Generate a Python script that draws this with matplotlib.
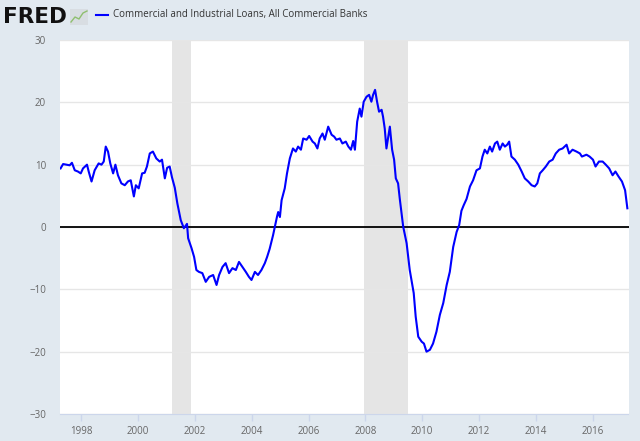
import numpy as np
import matplotlib.pyplot as plt
from matplotlib.patches import Rectangle
from matplotlib.lines import Line2D

plt.rcParams['font.family'] = ['Open Sans', 'DejaVu Sans']

# year-over-year % change (decimal years)
years = [1997.27, 1997.36, 1997.48, 1997.59, 1997.67, 1997.77, 1997.88, 1997.98,
         1998.06, 1998.20, 1998.26, 1998.36, 1998.47, 1998.61, 1998.71, 1998.79,
         1998.86, 1998.94, 1999.02, 1999.12, 1999.20, 1999.29, 1999.41, 1999.53,
         1999.64, 1999.74, 1999.85, 1999.92, 2000.02, 2000.14, 2000.23, 2000.31,
         2000.41, 2000.52, 2000.64, 2000.76, 2000.84, 2000.94, 2001.02, 2001.11,
         2001.19, 2001.29, 2001.38, 2001.50, 2001.61, 2001.72, 2001.76, 2001.88,
         2001.97, 2002.05, 2002.14, 2002.26, 2002.38, 2002.50, 2002.64, 2002.76,
         2002.85, 2002.97, 2003.08, 2003.20, 2003.32, 2003.44, 2003.55, 2003.67,
         2003.79, 2003.90, 2003.99, 2004.11, 2004.22, 2004.34, 2004.46, 2004.54,
         2004.63, 2004.75, 2004.81, 2004.89, 2004.93, 2004.99, 2005.05, 2005.16,
         2005.24, 2005.34, 2005.45, 2005.55, 2005.63, 2005.73, 2005.81, 2005.93,
         2006.02, 2006.14, 2006.22, 2006.31, 2006.39, 2006.49, 2006.57, 2006.69,
         2006.81, 2006.90, 2006.98, 2007.10, 2007.19, 2007.31, 2007.40, 2007.49,
         2007.57, 2007.63, 2007.71, 2007.80, 2007.86, 2007.94, 2008.04, 2008.13,
         2008.21, 2008.27, 2008.34, 2008.41, 2008.48, 2008.57, 2008.62, 2008.68,
         2008.74, 2008.86, 2008.94, 2009.01, 2009.07, 2009.15, 2009.21, 2009.33,
         2009.45, 2009.56, 2009.70, 2009.77, 2009.86, 2009.98, 2010.06, 2010.15,
         2010.27, 2010.38, 2010.50, 2010.62, 2010.74, 2010.86, 2010.97, 2011.09,
         2011.21, 2011.30, 2011.38, 2011.46, 2011.56, 2011.68, 2011.79, 2011.91,
         2012.03, 2012.12, 2012.20, 2012.29, 2012.38, 2012.46, 2012.56, 2012.64,
         2012.73, 2012.83, 2012.91, 2012.99, 2013.06, 2013.14, 2013.26, 2013.38,
         2013.50, 2013.61, 2013.73, 2013.85, 2013.96, 2014.05, 2014.14, 2014.24,
         2014.35, 2014.47, 2014.59, 2014.70, 2014.82, 2014.94, 2015.08, 2015.17,
         2015.29, 2015.43, 2015.55, 2015.62, 2015.78, 2015.89, 2016.01, 2016.10,
         2016.22, 2016.35, 2016.46, 2016.58, 2016.70, 2016.80, 2016.91, 2017.03,
         2017.14, 2017.22]
values = [9.4, 10.1, 10.0, 9.9, 10.3, 9.1, 8.9, 8.6,
          9.4, 10.0, 8.9, 7.3, 9.1, 10.2, 10.0, 10.5,
          12.9, 12.1, 10.2, 8.6, 10.0, 8.3, 7.0, 6.7,
          7.3, 7.5, 4.9, 6.7, 6.2, 8.6, 8.7, 9.7,
          11.8, 12.1, 11.0, 10.5, 10.8, 7.8, 9.5, 9.7,
          8.0, 6.3, 3.8, 1.1, -0.2, 0.5, -1.8, -3.4,
          -4.8, -6.9, -7.2, -7.4, -8.8, -8.0, -7.7, -9.3,
          -7.7, -6.4, -5.8, -7.4, -6.6, -6.9, -5.6, -6.4,
          -7.2, -8.0, -8.5, -7.2, -7.7, -6.9, -5.8, -4.8,
          -3.5, -1.3, 0.0, 1.7, 2.4, 1.6, 4.3, 6.2,
          8.6, 11.0, 12.6, 12.1, 12.9, 12.4, 14.2, 14.0,
          14.6, 13.7, 13.4, 12.6, 14.2, 15.0, 14.0, 16.1,
          14.8, 14.5, 14.0, 14.2, 13.4, 13.7, 12.9, 12.4,
          13.8, 12.4, 16.9, 19.0, 17.7, 20.1, 20.9, 21.2,
          20.1, 21.2, 22.0, 20.1, 18.5, 18.8, 17.7, 15.8,
          12.6, 16.1, 12.4, 10.8, 7.8, 7.0, 4.5, 0.05,
          -2.6, -6.9, -10.6, -14.4, -17.6, -18.4, -18.7, -20.0,
          -19.7, -18.7, -16.8, -14.1, -12.2, -9.3, -7.2, -3.2,
          -0.8, 0.3, 2.6, 3.5, 4.5, 6.5, 7.5, 9.1,
          9.4, 11.3, 12.4, 11.8, 12.9, 12.1, 13.4, 13.7,
          12.4, 13.4, 12.9, 13.2, 13.7, 11.3, 10.8, 10.0,
          8.9, 7.8, 7.3, 6.7, 6.5, 7.0, 8.6, 9.1,
          9.7, 10.5, 10.8, 11.8, 12.4, 12.6, 13.2, 11.8,
          12.4, 12.1, 11.8, 11.3, 11.6, 11.3, 10.8, 9.7,
          10.5, 10.5, 10.0, 9.4, 8.3, 8.9, 8.1, 7.3,
          5.9, 3.0]

recessions = [(2001.18, 2001.85), (2007.94, 2009.49)]
yticks = [-30, -20, -10, 0, 10, 20, 30]
xticks = list(range(1998, 2017, 2))
series_name = 'Commercial and Industrial Loans, All Commercial Banks'

bg = '#e1e9f0'
fig = plt.figure(figsize=(6.4, 4.41), dpi=100, facecolor=bg)
ax = fig.add_axes([60/640, 27/441, 568.5/640, 374/441])
ax.set_facecolor('white')

for start, end in recessions:
    ax.axvspan(start, end, color='#e5e5e5', lw=0, zorder=0)

ax.set_yticks(yticks)
ax.yaxis.grid(True, color='#e6e6e6', lw=1, zorder=1)
ax.axhline(0, color='black', lw=1.3, zorder=2)
ax.plot(years, values, color='#0000ff', lw=1.5, zorder=3)

ax.set_xlim(1997.25, 2017.26)
ax.set_ylim(-30, 30)
ax.set_xticks(xticks)

for side in ['top', 'right', 'left']:
    ax.spines[side].set_visible(False)
ax.spines['bottom'].set_color('#ccd6eb')
ax.tick_params(axis='y', length=0, pad=10, labelsize=7, labelcolor='#666666')
ax.tick_params(axis='x', length=5, width=1, color='#ccd6eb', pad=4,
               labelsize=7, labelcolor='#666666')

# header: FRED logo + legend
fig.text(3/640, 1 - 17/441, 'FRED', fontsize=15.5, fontweight='black',
         color='#111111', va='center', ha='left', family=['DejaVu Sans'])
fig.patches.append(Rectangle((70/640, 1 - 25/441), 18/640, 16/441,
                             transform=fig.transFigure, facecolor='#d8dde2',
                             edgecolor='none'))
fig.lines.append(Line2D(np.array([71, 75, 79, 83, 87]) / 640,
                        1 - np.array([22, 17, 19, 13, 11]) / 441,
                        transform=fig.transFigure, color='#8fbf6f', lw=1))
fig.lines.append(Line2D([96/640, 108/640], [1 - 15/441, 1 - 15/441],
                        transform=fig.transFigure, color='#0000ff', lw=1.5))
fig.text(113/640, 1 - 15/441, series_name, fontsize=7, color='#333333',
         va='center', ha='left')

fig.savefig('out.png', dpi=100, facecolor=bg)
